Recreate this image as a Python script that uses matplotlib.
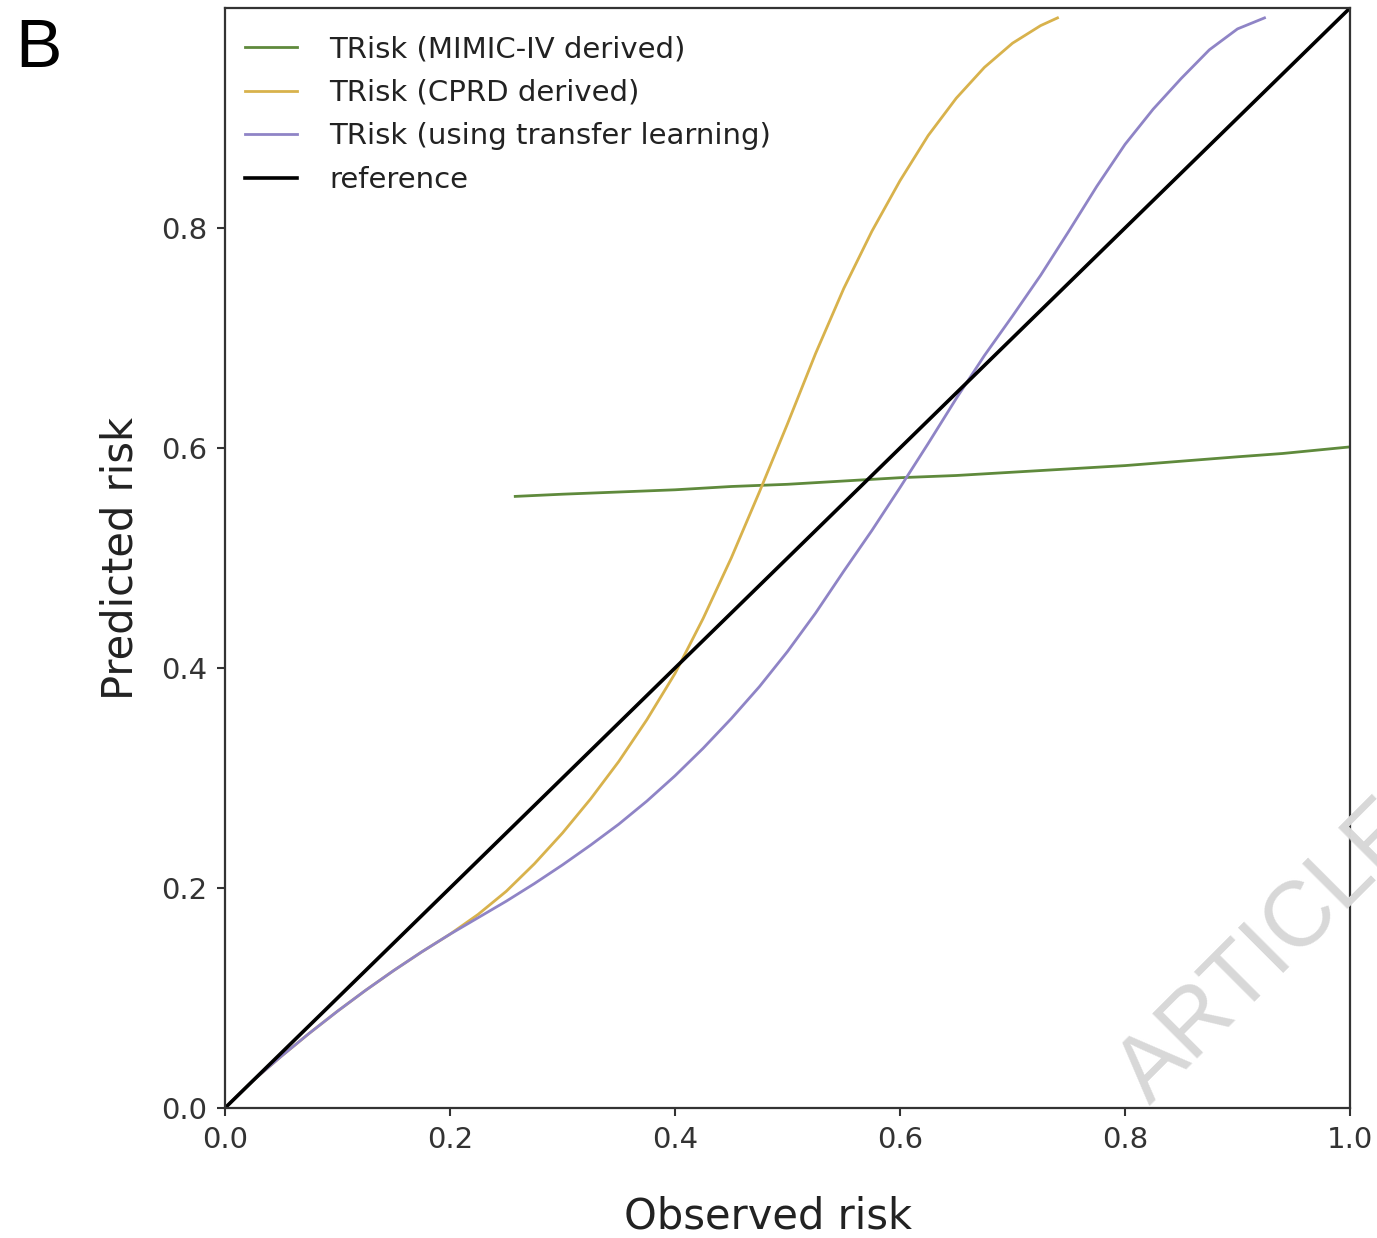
import numpy as np
import matplotlib
matplotlib.use("Agg")
import matplotlib.pyplot as plt

# ---- values ----
MIMIC_X = [0.258, 0.30, 0.35, 0.40, 0.45, 0.50, 0.55, 0.60, 0.65, 0.70, 0.75,
           0.80, 0.85, 0.90, 0.94, 0.97, 1.0]
MIMIC_Y = [0.556, 0.558, 0.560, 0.562, 0.565, 0.567, 0.570, 0.573, 0.575, 0.578, 0.581,
           0.584, 0.588, 0.592, 0.595, 0.598, 0.601]

CPRD_X = [0.000, 0.025, 0.050, 0.075, 0.100, 0.125, 0.150, 0.175, 0.200, 0.225,
          0.250, 0.275, 0.300, 0.325, 0.350, 0.375, 0.400, 0.425, 0.450, 0.475,
          0.500, 0.525, 0.550, 0.575, 0.600, 0.625, 0.650, 0.675, 0.700, 0.725,
          0.740]
CPRD_Y = [0.000, 0.025, 0.047, 0.068, 0.088, 0.107, 0.125, 0.142, 0.158, 0.176,
          0.197, 0.222, 0.250, 0.281, 0.315, 0.353, 0.395, 0.445, 0.500, 0.560,
          0.622, 0.686, 0.745, 0.797, 0.843, 0.884, 0.918, 0.946, 0.968, 0.984,
          0.991]

TL_X = [0.000, 0.025, 0.050, 0.075, 0.100, 0.125, 0.150, 0.175, 0.200, 0.225,
        0.250, 0.275, 0.300, 0.325, 0.350, 0.375, 0.400, 0.425, 0.450, 0.475,
        0.500, 0.525, 0.550, 0.575, 0.600, 0.625, 0.650, 0.675, 0.700, 0.725,
        0.750, 0.775, 0.800, 0.825, 0.850, 0.875, 0.900, 0.924]
TL_Y = [0.000, 0.025, 0.047, 0.068, 0.088, 0.107, 0.125, 0.142, 0.158, 0.173,
        0.188, 0.204, 0.221, 0.239, 0.258, 0.279, 0.302, 0.327, 0.354, 0.383,
        0.415, 0.450, 0.488, 0.525, 0.564, 0.604, 0.645, 0.684, 0.720, 0.757,
        0.797, 0.838, 0.876, 0.908, 0.936, 0.962, 0.981, 0.991]

REF_X = [0.0, 1.0]
REF_Y = [0.0, 1.0]

LABELS = ["TRisk (MIMIC-IV derived)", "TRisk (CPRD derived)",
          "TRisk (using transfer learning)", "reference"]
COLORS = ["#5f8a3c", "#d8b24c", "#8f84c6", "#000000"]

XTICKS = [0.0, 0.2, 0.4, 0.6, 0.8, 1.0]
YTICKS = [0.0, 0.2, 0.4, 0.6, 0.8]

plt.rcParams["font.family"] = "DejaVu Sans"

fig = plt.figure(figsize=(13.77, 12.38), dpi=100)
ax = fig.add_axes([225 / 1377, 1 - 1108 / 1238, 1125 / 1377, 1100 / 1238])

series = [(MIMIC_X, MIMIC_Y), (CPRD_X, CPRD_Y), (TL_X, TL_Y), (REF_X, REF_Y)]
for (xs, ys), lab, col in zip(series, LABELS, COLORS):
    lw = 2.6 if col == "#000000" else 2.0
    ax.plot(xs, ys, color=col, lw=lw, label=lab, solid_joinstyle="round")

ax.set_xlim(0, 1)
ax.set_ylim(0, 1)
ax.set_xticks(XTICKS)
ax.set_yticks(YTICKS)
ax.tick_params(labelsize=21, length=6, width=1.5, color="#333333",
               labelcolor="#333333", pad=7)
for sp in ax.spines.values():
    sp.set_linewidth(1.6)
    sp.set_color("#333333")

ax.set_xlabel("Observed risk", fontsize=30, labelpad=30, color="#222222", x=0.483)
ax.set_ylabel("Predicted risk", fontsize=30, labelpad=14, color="#222222")

ax.legend(loc="upper left", bbox_to_anchor=(0.0, 0.993), fontsize=21,
          frameon=False, handlelength=1.8, handletextpad=1.1,
          labelspacing=0.53, borderaxespad=0.28, labelcolor="#222222")

fig.text(38 / 1377, 1 - 49 / 1238, "B", fontsize=50, family="Liberation Sans",
         ha="center", va="center")

# watermark in the lower right corner, cut by the figure edge as in the source
fig.text(1150 / 1377, 1 - 1106 / 1238, "ARTICLE", fontsize=66, color="#d8d8d8",
         rotation=45, rotation_mode="anchor", ha="left", va="baseline",
         family="Liberation Sans", zorder=0)

fig.savefig("out.png", dpi=100)
